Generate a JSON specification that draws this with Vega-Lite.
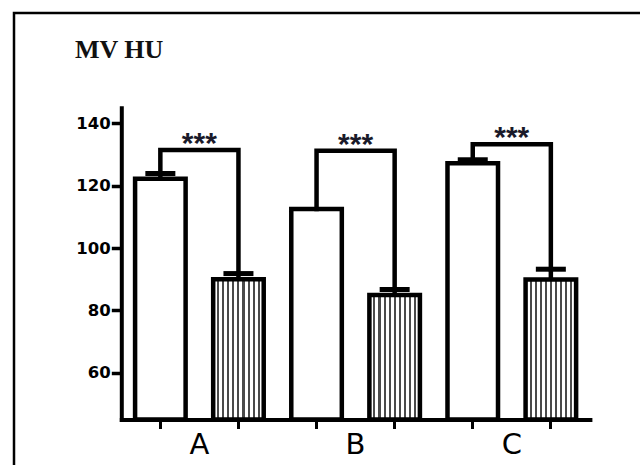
{
  "$schema": "https://vega.github.io/schema/vega-lite/v6.json",
  "autosize": {"type": "none"},
  "padding": {"left": 14, "top": 13, "right": 0, "bottom": 0},
  "width": 626,
  "height": 452,
  "background": "white",
  "title": {
    "text": "MV HU",
    "anchor": "start",
    "frame": "group",
    "orient": "top",
    "offset": 0,
    "baseline": "alphabetic",
    "dx": 61,
    "dy": 71,
    "font": "Liberation Serif",
    "fontSize": 26,
    "fontWeight": "bold",
    "color": "#111111"
  },
  "datasets": {
    "bars": [
      {"cat": "A1", "kind": "ctrl", "v": 122.2, "hi": 123.9},
      {"cat": "A2", "kind": "hatch", "v": 90.0, "hi": 91.8},
      {"cat": "B1", "kind": "ctrl", "v": 112.5, "hi": null},
      {"cat": "B2", "kind": "hatch", "v": 84.9, "hi": 86.7},
      {"cat": "C1", "kind": "ctrl", "v": 127.2, "hi": 128.3},
      {"cat": "C2", "kind": "hatch", "v": 89.9, "hi": 93.2}
    ],
    "brackets": [
      {"b": "A", "o": 1, "cat": "A1", "v": 123.9},
      {"b": "A", "o": 2, "cat": "A1", "v": 131.4},
      {"b": "A", "o": 3, "cat": "A2", "v": 131.4},
      {"b": "A", "o": 4, "cat": "A2", "v": 91.8},
      {"b": "B", "o": 1, "cat": "B1", "v": 112.5},
      {"b": "B", "o": 2, "cat": "B1", "v": 131.2},
      {"b": "B", "o": 3, "cat": "B2", "v": 131.2},
      {"b": "B", "o": 4, "cat": "B2", "v": 86.7},
      {"b": "C", "o": 1, "cat": "C1", "v": 128.3},
      {"b": "C", "o": 2, "cat": "C1", "v": 133.3},
      {"b": "C", "o": 3, "cat": "C2", "v": 133.3},
      {"b": "C", "o": 4, "cat": "C2", "v": 93.2}
    ],
    "stars": [
      {"cat": "A1", "v": 131.4, "t": "***"},
      {"cat": "B1", "v": 131.2, "t": "***"},
      {"cat": "C1", "v": 133.3, "t": "***"}
    ]
  },
  "encoding": {
    "x": {
      "field": "cat",
      "type": "nominal",
      "scale": {
        "domain": ["A1", "A2", "B1", "B2", "C1", "C2"],
        "range": [107.3, 575.9],
        "paddingInner": 0.353,
        "paddingOuter": 0.1765
      },
      "axis": {
        "title": null,
        "orient": "bottom",
        "offset": -45.5,
        "domainWidth": 4,
        "domainColor": "black",
        "domainCap": "square",
        "tickColor": "black",
        "tickWidth": 3,
        "tickSize": 9,
        "labelExpr": "datum.value == 'A1' ? 'A' : datum.value == 'B1' ? 'B' : datum.value == 'C1' ? 'C' : ''",
        "labelOffset": 39,
        "labelAngle": 0,
        "labelPadding": 2,
        "labelFont": "DejaVu Sans",
        "labelFontSize": 29,
        "labelColor": "black",
        "labelOverlap": false,
        "labelFlush": false,
        "labelBound": false,
        "grid": false
      }
    },
    "y": {
      "field": "v",
      "type": "quantitative",
      "title": null,
      "scale": {"domain": [45, 145], "range": [406.5, 94.7], "zero": false, "nice": false},
      "axis": {
        "title": null,
        "orient": "left",
        "offset": -107.3,
        "values": [60, 80, 100, 120, 140],
        "domainWidth": 4,
        "domainColor": "black",
        "domainCap": "square",
        "tickColor": "black",
        "tickWidth": 3.5,
        "tickSize": 10,
        "labelPadding": 1,
        "labelFont": "DejaVu Sans",
        "labelFontWeight": "bold",
        "labelFontSize": 16.5,
        "labelColor": "black",
        "grid": false
      }
    }
  },
  "layer": [
    {
      "data": {"name": "bars"},
      "transform": [{"filter": "datum.kind == 'ctrl'"}],
      "mark": {"type": "bar", "fill": "white", "stroke": "black", "strokeWidth": 4.5},
      "encoding": {"y2": {"datum": 45}}
    },
    {
      "data": {"name": "bars"},
      "transform": [{"filter": "datum.kind == 'hatch'"}],
      "mark": {
        "type": "bar",
        "stroke": "black",
        "strokeWidth": 4.5,
        "fill": {
          "gradient": "linear",
          "x1": 0, "y1": 0, "x2": 1, "y2": 0,
          "stops": [
            {"offset": 0, "color": "#ffffff"},
            {"offset": 0.08, "color": "#ffffff"}, {"offset": 0.08, "color": "#4a4a4a"}, {"offset": 0.12, "color": "#4a4a4a"}, {"offset": 0.12, "color": "#ffffff"},
            {"offset": 0.18, "color": "#ffffff"}, {"offset": 0.18, "color": "#4a4a4a"}, {"offset": 0.22, "color": "#4a4a4a"}, {"offset": 0.22, "color": "#ffffff"},
            {"offset": 0.28, "color": "#ffffff"}, {"offset": 0.28, "color": "#4a4a4a"}, {"offset": 0.32, "color": "#4a4a4a"}, {"offset": 0.32, "color": "#ffffff"},
            {"offset": 0.38, "color": "#ffffff"}, {"offset": 0.38, "color": "#4a4a4a"}, {"offset": 0.42, "color": "#4a4a4a"}, {"offset": 0.42, "color": "#ffffff"},
            {"offset": 0.48, "color": "#ffffff"}, {"offset": 0.48, "color": "#4a4a4a"}, {"offset": 0.52, "color": "#4a4a4a"}, {"offset": 0.52, "color": "#ffffff"},
            {"offset": 0.58, "color": "#ffffff"}, {"offset": 0.58, "color": "#4a4a4a"}, {"offset": 0.62, "color": "#4a4a4a"}, {"offset": 0.62, "color": "#ffffff"},
            {"offset": 0.68, "color": "#ffffff"}, {"offset": 0.68, "color": "#4a4a4a"}, {"offset": 0.72, "color": "#4a4a4a"}, {"offset": 0.72, "color": "#ffffff"},
            {"offset": 0.78, "color": "#ffffff"}, {"offset": 0.78, "color": "#4a4a4a"}, {"offset": 0.82, "color": "#4a4a4a"}, {"offset": 0.82, "color": "#ffffff"},
            {"offset": 0.88, "color": "#ffffff"}, {"offset": 0.88, "color": "#4a4a4a"}, {"offset": 0.92, "color": "#4a4a4a"}, {"offset": 0.92, "color": "#ffffff"},
            {"offset": 1, "color": "#ffffff"}
          ]
        }
      },
      "encoding": {"y2": {"datum": 45}}
    },
    {
      "data": {"name": "bars"},
      "transform": [{"filter": "datum.hi != null"}],
      "mark": {"type": "rule", "color": "black", "strokeWidth": 4.5},
      "encoding": {"y2": {"field": "hi"}}
    },
    {
      "data": {"name": "bars"},
      "transform": [{"filter": "datum.hi != null"}],
      "mark": {"type": "tick", "color": "black", "size": 30, "thickness": 5, "orient": "horizontal", "opacity": 1},
      "encoding": {"y": {"field": "hi", "type": "quantitative", "title": null}}
    },
    {
      "data": {"name": "brackets"},
      "mark": {"type": "line", "color": "black", "strokeWidth": 4.5, "strokeJoin": "miter", "strokeCap": "square"},
      "encoding": {
        "detail": {"field": "b", "type": "nominal"},
        "order": {"field": "o", "type": "quantitative"}
      }
    },
    {
      "data": {"name": "stars"},
      "mark": {"type": "text", "dx": 39, "dy": 3, "align": "center", "baseline": "alphabetic", "font": "Liberation Sans", "fontWeight": "bold", "fontSize": 30, "color": "#1a1a2a"},
      "encoding": {"text": {"field": "t"}}
    }
  ],
  "config": {
    "view": {"stroke": "black", "strokeWidth": 2.5, "strokeDash": [626, 1078, 460, 0], "fill": "white"}
  }
}
